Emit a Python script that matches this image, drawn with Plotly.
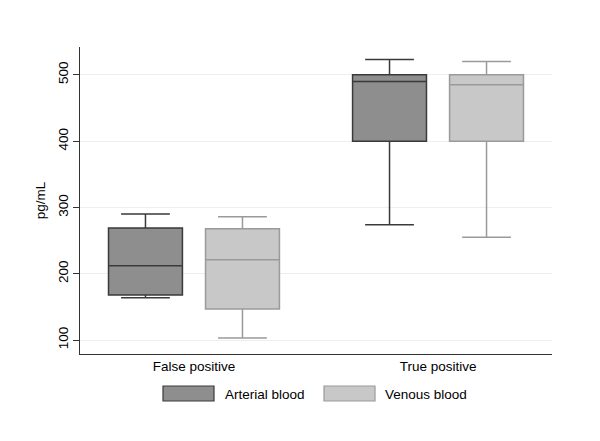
import plotly.graph_objects as go

categories = ["False positive", "True positive"]
series_names = ["Arterial blood", "Venous blood"]
arterial_q1 = [168, 400]
arterial_median = [212, 490]
arterial_q3 = [269, 500]
arterial_low = [164, 274]
arterial_high = [290, 523]
venous_q1 = [147, 400]
venous_median = [221, 485]
venous_q3 = [268, 500]
venous_low = [103, 255]
venous_high = [286, 520]
y_ticks = [100, 200, 300, 400, 500]

fills = ["#8e8e8e", "#c8c8c8"]
lines = ["#3a3a3a", "#9a9a9a"]
font = "Liberation Sans, Arial, sans-serif"

fig = go.Figure()
data = [
    (arterial_q1, arterial_median, arterial_q3, arterial_low, arterial_high),
    (venous_q1, venous_median, venous_q3, venous_low, venous_high),
]
for i, (q1, med, q3, lo, hi) in enumerate(data):
    fig.add_trace(go.Box(
        name=series_names[i], x=categories, q1=q1, median=med, q3=q3,
        lowerfence=lo, upperfence=hi, fillcolor=fills[i],
        line=dict(color=lines[i], width=1.5), whiskerwidth=0.66,
        boxpoints=False, showlegend=False, hoverinfo="skip",
    ))

# custom legend (paper coords relative to plot area 80..552 x 47..354)
legend_x = [(163, 214, 223), (324, 375, 383)]
shapes = []
annotations = []
for i, (x0, x1, tx) in enumerate(legend_x):
    shapes.append(dict(type="rect", xref="paper", yref="paper",
                       x0=(x0 - 80) / 472, x1=(x1 - 80) / 472,
                       y0=(354 - 401) / 307, y1=(354 - 386) / 307,
                       fillcolor=fills[i], line=dict(color=lines[i], width=1.2)))
    annotations.append(dict(xref="paper", yref="paper", x=(tx - 80) / 472,
                            y=(354 - 394) / 307, text=series_names[i],
                            showarrow=False, xanchor="left", yanchor="middle",
                            font=dict(size=13.5, color="#000", family=font)))

fig.update_layout(
    width=592, height=433,
    margin=dict(l=72, r=48, t=39, b=87),
    paper_bgcolor="white", plot_bgcolor="white",
    boxmode="group", boxgap=0.205, boxgroupgap=0.238,
    font=dict(family=font, size=13, color="#000"),
    shapes=shapes, annotations=annotations,
    xaxis=dict(type="category", range=[-0.467, 1.467], showline=True,
               linecolor="#333", linewidth=1, ticks="", showgrid=False,
               tickfont=dict(size=13.5), zeroline=False),
    yaxis=dict(range=[79, 542], tickvals=y_ticks, ticks="outside", ticklen=6,
               tickcolor="#333", showline=True, linecolor="#333", linewidth=1,
               showgrid=True, gridcolor="#e8f0f1", gridwidth=1, zeroline=False,
               tickangle=-90, tickfont=dict(size=13.5),
               title=dict(text="pg/mL", font=dict(size=13.5), standoff=6)),
)

fig.write_html("out.html")
